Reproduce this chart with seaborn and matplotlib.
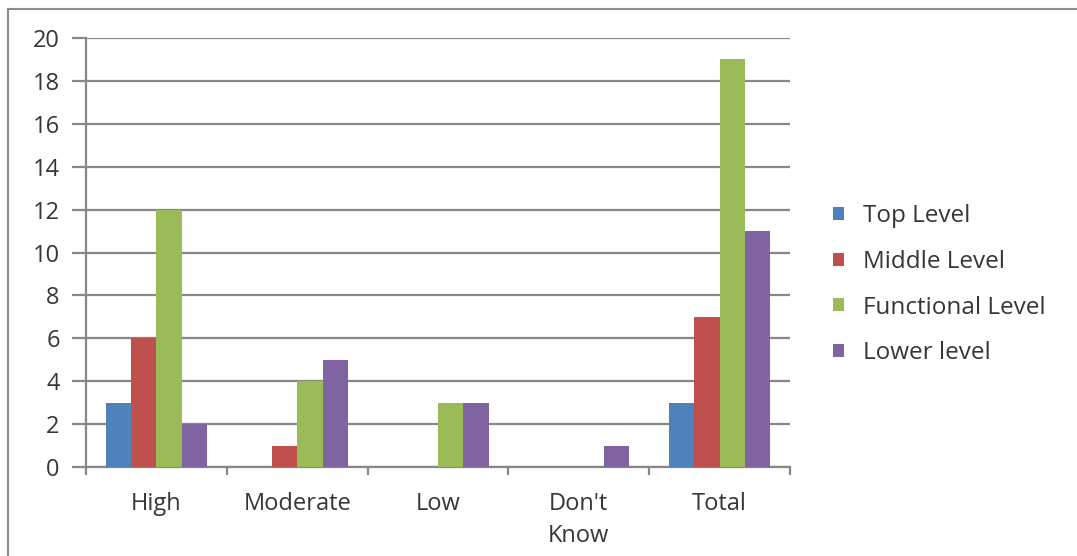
import pandas as pd
import numpy as np
import matplotlib.pyplot as plt
import seaborn as sns
from matplotlib.patches import Rectangle

# Chart values
categories = ["High", "Moderate", "Low", "Don't\nKnow", "Total"]
top_level = [3, 0, 0, 0, 3]
middle_level = [6, 1, 0, 0, 7]
functional_level = [12, 4, 3, 0, 19]
lower_level = [2, 5, 3, 1, 11]
series_names = ["Top Level", "Middle Level", "Functional Level", "Lower level"]

excel_colors = ["#4F81BD", "#C0504D", "#9BBB59", "#8064A2"]

# Long-form table for seaborn
df = pd.DataFrame({
    "category": categories * 4,
    "level": np.repeat(series_names, len(categories)),
    "count": top_level + middle_level + functional_level + lower_level,
})

sns.set_style("white")
plt.rcParams["font.family"] = ["Open Sans", "DejaVu Sans"]

fig = plt.figure(figsize=(10.77, 5.56), dpi=100)
ax = fig.add_axes([0.0799, 0.160, 0.6536, 0.7717])

sns.barplot(
    data=df, x="category", y="count", hue="level",
    order=categories, hue_order=series_names,
    palette=excel_colors, width=0.72, saturation=1,
    edgecolor="none", ax=ax, zorder=3,
)

# Excel-like axes
grid_color = "#878787"
text_color = "#363636"
fs = 17
ax.set_ylim(0, 20)
ax.set_xlim(-0.5, 4.5)
ax.set_yticks(range(0, 21, 2))
ax.yaxis.grid(True, color=grid_color, linewidth=1.6, zorder=0)
ax.set_axisbelow(True)
for side in ["top", "right"]:
    ax.spines[side].set_visible(False)
for side in ["left", "bottom"]:
    ax.spines[side].set_color(grid_color)
    ax.spines[side].set_linewidth(1.6)

ax.tick_params(axis="y", length=10, width=1.6, color=grid_color, pad=9,
               labelsize=fs, labelcolor=text_color, left=True)
ax.set_xticks(np.arange(-0.5, 4.6, 1), minor=True)
ax.tick_params(axis="x", which="minor", length=6, width=1.6, color=grid_color, bottom=True)
ax.tick_params(axis="x", which="major", length=0, pad=18, labelsize=fs, labelcolor=text_color)
for lbl in ax.get_xticklabels():
    lbl.set_linespacing(1.45)
ax.set_xlabel("")
ax.set_ylabel("")

ax.legend(
    loc="center left", bbox_to_anchor=(1.061, 0.425), frameon=False,
    fontsize=17.5, labelspacing=0.9, handlelength=0.45, handleheight=0.45,
    handletextpad=0.8, borderaxespad=0, borderpad=0, labelcolor=text_color,
)

# outer chart border
fig.patches.append(Rectangle((8 / 1077, -0.02), 1.1, 1 - 9 / 556 + 0.02,
                             transform=fig.transFigure, fill=False,
                             edgecolor="#8c8c8c", linewidth=1.5))

fig.savefig("out.png", dpi=100, facecolor="white")
